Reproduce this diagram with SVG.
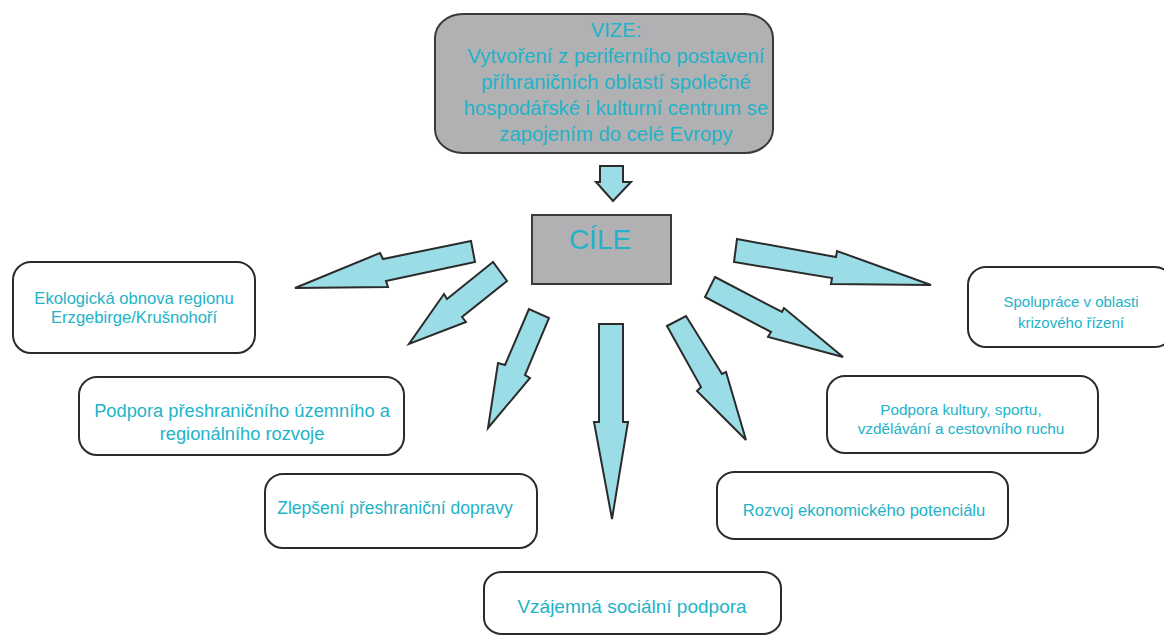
<svg xmlns="http://www.w3.org/2000/svg" width="1164" height="635" viewBox="0 0 1164 635">
<style>
.box{fill:#ffffff;stroke:#2b2b2b;stroke-width:2}
.gray{fill:#b1b1b3;stroke:#3a3a3a;stroke-width:2}
.arr{fill:#9adde6;stroke:#2b2b2b;stroke-width:2;stroke-linejoin:miter}
text{font-family:"Liberation Sans",Arial,sans-serif;fill:#22b3c8;text-anchor:middle}
</style>
<g id="connectors">
<polygon class="arr" points="600,166 623,166 623,182 631,182 613,201 596,182 600,182"/>
<polygon class="arr" points="471,241 383,259 380,253 295,288 388,287 386,281 475,262"/>
<polygon class="arr" points="493,262 447,299 444,294 409,344 466,322 462,317 507,281"/>
<polygon class="arr" points="529,309 505,365 498,363 488,428 530,378 525,375 549,318"/>
<polygon class="arr" points="599,324 623,324 623,422 628,422 612,519 594,422 599,422"/>
<polygon class="arr" points="667,326 701,387 697,391 746,440 726,372 722,374 686,316"/>
<polygon class="arr" points="715,277 782,312 784,308 843,357 768,337 771,332 705,297"/>
<polygon class="arr" points="737,239 836,257 837,251 931,285 831,284 832,278 734,262"/>
</g>
<g id="vize">
<rect class="gray" x="435" y="14" width="338" height="139" rx="28" ry="24"/>
<text x="616" y="37" font-size="20.3">VIZE:</text>
<text x="616" y="63" font-size="20.3">Vytvoření z periferního postavení</text>
<text x="616" y="89" font-size="20.3">příhraničních oblastí společné</text>
<text x="616" y="115" font-size="20.3">hospodářské i kulturní centrum se</text>
<text x="616" y="141" font-size="20.3">zapojením do celé Evropy</text>
</g>
<g id="cile">
<rect class="gray" x="532" y="215" width="139" height="69"/>
<text x="600" y="249" font-size="28">CÍLE</text>
</g>
<g id="eko">
<rect class="box" x="13" y="262" width="242" height="91" rx="18" ry="18"/>
<text x="134" y="304" font-size="16.6">Ekologická obnova regionu</text>
<text x="134" y="323" font-size="16.6">Erzgebirge/Krušnohoří</text>
</g>
<g id="podpora-rozvoj">
<rect class="box" x="79" y="377" width="325" height="78" rx="18" ry="18"/>
<text x="242" y="417" font-size="18.3">Podpora přeshraničního územního a</text>
<text x="242" y="440" font-size="18.3">regionálního rozvoje</text>
</g>
<g id="doprava">
<rect class="box" x="265" y="474" width="272" height="74" rx="18" ry="18"/>
<text x="395" y="514" font-size="17.5">Zlepšení přeshraniční dopravy</text>
</g>
<g id="socialni">
<rect class="box" x="484" y="572" width="297" height="62" rx="18" ry="16"/>
<text x="632" y="613" font-size="19">Vzájemná sociální podpora</text>
</g>
<g id="ekonomicky">
<rect class="box" x="717" y="472" width="291" height="67" rx="18" ry="16"/>
<text x="864" y="516" font-size="16.6">Rozvoj ekonomického potenciálu</text>
</g>
<g id="kultura">
<rect class="box" x="827" y="376" width="271" height="77" rx="18" ry="18"/>
<text x="961" y="415" font-size="15.3">Podpora kultury, sportu,</text>
<text x="961" y="434" font-size="15.3">vzdělávání a cestovního ruchu</text>
</g>
<g id="krize">
<rect class="box" x="968" y="267" width="205" height="80" rx="18" ry="18"/>
<text x="1071" y="307" font-size="15">Spolupráce v oblasti</text>
<text x="1071" y="328" font-size="15">krizového řízení</text>
</g>
</svg>
